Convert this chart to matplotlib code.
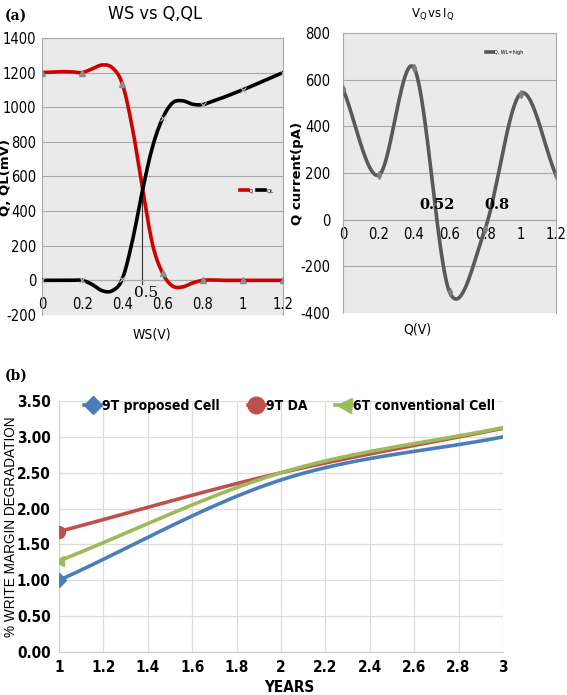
import numpy as np
import matplotlib
matplotlib.use('Agg')
import matplotlib.pyplot as plt
from matplotlib import font_manager

plt.rcParams['axes.unicode_minus'] = False

# look for a condensed sans (the original uses narrow office fonts)
cond = {}
for f in font_manager.fontManager.ttflist:
    fn = f.fname.lower()
    if ('narrow' in fn or 'condensed' in fn) and 'italic' not in fn and 'oblique' not in fn and 'mono' not in fn:
        key = 'bold' if 'bold' in fn else 'regular'
        cond.setdefault(key, f.fname)
if 'regular' in cond:
    NARROW = font_manager.FontProperties(fname=cond['regular'])
    NARROW_B = font_manager.FontProperties(fname=cond.get('bold', cond['regular']))
    FOUND = True
else:
    NARROW = font_manager.FontProperties(family='Liberation Sans')
    NARROW_B = font_manager.FontProperties(family='Liberation Sans', weight='bold')
    FOUND = False

# (a) left: WS vs Q, QL
ws = [0, 0.05, 0.1, 0.15, 0.2, 0.25, 0.3, 0.35, 0.4, 0.45, 0.5, 0.55, 0.6,
      0.65, 0.7, 0.75, 0.8, 0.85, 0.9, 0.95, 1.0, 1.05, 1.1, 1.15, 1.2]
q_mv = [1200, 1203, 1205, 1204, 1200, 1222, 1244, 1228, 1135, 880, 535, 210, 42,
        -33, -38, -15, 0, 2, 0, 0, 0, 0, 0, 0, 0]
ql_mv = [0, 0, 0, 0, 0, -24, -60, -60, 8, 228, 518, 770, 935,
         1025, 1037, 1017, 1015, 1035, 1055, 1078, 1100, 1125, 1150, 1175, 1200]
ws_ticks = [0, 0.2, 0.4, 0.6, 0.8, 1, 1.2]
ws_ticklabels = ['0', '0.2', '0.4', '0.6', '0.8', '1', '1.2']
q_ticks = [-200, 0, 200, 400, 600, 800, 1000, 1200, 1400]

# (a) right: VQ vs IQ
vq = [0, 0.2, 0.4, 0.6, 0.8, 1.0, 1.2]
iq_pa = [560, 190, 650, -310, -40, 540, 190]
iq_ticks = [-400, -200, 0, 200, 400, 600, 800]

# (b) write margin degradation
years = [1, 2, 3]
wm_9t_proposed = [1.00, 2.40, 3.00]
wm_9t_da = [1.68, 2.50, 3.12]
wm_6t_conv = [1.27, 2.50, 3.13]
year_ticks = [1, 1.2, 1.4, 1.6, 1.8, 2, 2.2, 2.4, 2.6, 2.8, 3]
year_ticklabels = ['1', '1.2', '1.4', '1.6', '1.8', '2', '2.2', '2.4', '2.6', '2.8', '3']
wm_ticks = [0, 0.5, 1.0, 1.5, 2.0, 2.5, 3.0, 3.5]


def smooth(x, y, n=30):
    # excel-like smoothed line (catmull-rom through the points)
    x = np.asarray(x, float)
    y = np.asarray(y, float)
    px = np.concatenate([[x[0]], x, [x[-1]]])
    py = np.concatenate([[y[0]], y, [y[-1]]])
    xs, ys = [], []
    for i in range(1, len(px) - 2):
        h = px[i + 1] - px[i]
        m0 = (py[i + 1] - py[i - 1]) / (px[i + 1] - px[i - 1]) * h
        m1 = (py[i + 2] - py[i]) / (px[i + 2] - px[i]) * h
        t = np.linspace(0, 1, n, endpoint=False)
        h00 = 2 * t**3 - 3 * t**2 + 1
        h10 = t**3 - 2 * t**2 + t
        h01 = -2 * t**3 + 3 * t**2
        h11 = t**3 - t**2
        xs.append(px[i] + t * h)
        ys.append(h00 * py[i] + h10 * m0 + h01 * py[i + 1] + h11 * m1)
    xs.append([x[-1]])
    ys.append([y[-1]])
    return np.concatenate(xs), np.concatenate(ys)


def fp(base, size):
    p = base.copy()
    p.set_size(size)
    return p


TICK_A = 10.5 if FOUND else 8.2

fig = plt.figure(figsize=(5.67, 6.95), dpi=100)

PANEL_BG = '#eaeaea'
GRID_A = '#a9a9a9'

# ---- left panel
ax1 = fig.add_axes([0.0741, 0.5468, 0.425, 0.3986])
ax1.set_facecolor(PANEL_BG)
sx, sy = smooth(ws, q_mv, 12)
ax1.plot(sx, sy, color='#d00000', lw=2.6, label='Q', zorder=3)
ax1.plot(ws[::4], q_mv[::4], ls='none', marker='^', ms=5, color='#8c8c8c', zorder=4)
sx, sy = smooth(ws, ql_mv, 12)
ax1.plot(sx, sy, color='black', lw=2.6, label='QL', zorder=3)
ax1.plot(ws[::4], ql_mv[::4], ls='none', marker='x', ms=5, mew=0.8, color='#bdbdbd', zorder=4)
ax1.plot([0.5, 0.5], [-20, 520], color='#333333', lw=0.8, zorder=2)
ax1.text(0.52, -75, '0.5', family='DejaVu Serif', fontsize=11, ha='center', va='center')
ax1.set_xlim(0, 1.2)
ax1.set_ylim(-200, 1400)
ax1.set_yticks(q_ticks)
ax1.set_xticks(ws_ticks)
ax1.set_xticklabels(ws_ticklabels)
ax1.spines['bottom'].set_position(('data', 0))
for s in ax1.spines.values():
    s.set_color(GRID_A)
    s.set_linewidth(0.8)
ax1.grid(axis='y', color=GRID_A, lw=0.8)
ax1.set_axisbelow(True)
ax1.tick_params(axis='x', length=0, pad=12)
ax1.tick_params(axis='y', length=0, pad=4)
for lab in ax1.get_xticklabels() + ax1.get_yticklabels():
    lab.set_fontproperties(fp(NARROW, TICK_A))
fig.text(155 / 567, 1 - 14 / 695, 'WS vs Q,QL', fontproperties=fp(NARROW, 13 if FOUND else 12),
         ha='center', va='center')
fig.text(6 / 567, 1 - 177 / 695, 'Q, QL(mV)', fontsize=9.5, fontweight='bold', rotation=90,
         ha='center', va='center')
fig.text(152 / 567, 1 - 334 / 695, 'WS(V)', fontproperties=fp(NARROW, 10 if FOUND else 9),
         ha='center', va='center')
ax1.legend(loc='center left', bbox_to_anchor=(0.8, 0.448), ncol=2, frameon=False,
           fontsize=4, handlelength=1.5, handletextpad=0.2, columnspacing=0.6)

# ---- right panel
ax2 = fig.add_axes([0.605, 0.5496, 0.3757, 0.4029])
ax2.set_facecolor(PANEL_BG)
sx, sy = smooth(vq, iq_pa, 40)
ax2.plot(sx, sy, color='#595959', lw=2.6, label='Q, WL=high', zorder=3)
ax2.plot(vq, iq_pa, ls='none', marker='d', ms=4, color='#7f7f7f', zorder=4)
ax2.text(0.53, 65, '0.52', family='DejaVu Serif', fontsize=10.5, fontweight='bold', ha='center', va='center')
ax2.text(0.865, 65, '0.8', family='DejaVu Serif', fontsize=10.5, fontweight='bold', ha='center', va='center')
ax2.set_xlim(0, 1.2)
ax2.set_ylim(-400, 800)
ax2.set_yticks(iq_ticks)
ax2.set_xticks(ws_ticks)
ax2.set_xticklabels(ws_ticklabels)
ax2.spines['bottom'].set_position(('data', 0))
for s in ax2.spines.values():
    s.set_color(GRID_A)
    s.set_linewidth(0.8)
ax2.grid(axis='y', color=GRID_A, lw=0.8)
ax2.set_axisbelow(True)
ax2.tick_params(axis='x', length=0, pad=5)
ax2.tick_params(axis='y', length=0, pad=9)
for lab in ax2.get_xticklabels() + ax2.get_yticklabels():
    lab.set_fontproperties(fp(NARROW, TICK_A))
fig.text(433 / 567, 1 - 14 / 695, r'$\mathrm{V_Q\,vs\,I_Q}$', family='DejaVu Serif', fontsize=8.5,
         ha='center', va='center')
fig.text(298 / 567, 1 - 173 / 695, 'Q current(pA)', fontsize=9.5, fontweight='bold', rotation=90,
         ha='center', va='center')
fig.text(417 / 567, 1 - 330 / 695, 'Q(V)', fontproperties=fp(NARROW, 10 if FOUND else 9),
         ha='center', va='center')
ax2.legend(loc='center left', bbox_to_anchor=(0.65, 0.932), frameon=False,
           fontsize=3.5, handlelength=1.5, handletextpad=0.2)

# ---- panel (b)
ax3 = fig.add_axes([0.104, 0.0619, 0.783, 0.361])
series = [
    (wm_9t_proposed, '#4a7ebb', 'D', 8, '9T proposed Cell'),
    (wm_9t_da, '#c0504d', 'o', 10, '9T DA'),
    (wm_6t_conv, '#9bbb59', '<', 9, '6T conventional Cell'),
]
for vals, col, mk, ms, lab in series:
    sx, sy = smooth(years, vals, 40)
    ax3.plot(sx, sy, color=col, lw=2.6, zorder=3)
    ax3.plot(years[:1], vals[:1], ls='none', marker=mk, ms=ms * 0.85, color=col, zorder=4)
    ax3.plot([], [], color=col, lw=2.6, marker=mk, ms=ms * 1.2, label=lab)
ax3.set_xlim(1, 3)
ax3.set_ylim(0, 3.5)
ax3.set_xticks(year_ticks)
ax3.set_xticklabels(year_ticklabels)
ax3.set_yticks(wm_ticks)
ax3.set_yticklabels(['%.2f' % v for v in wm_ticks])
ax3.grid(True, color='#dcdcdc', lw=0.9)
ax3.set_axisbelow(True)
for side in ['top', 'right']:
    ax3.spines[side].set_visible(False)
for side in ['left', 'bottom']:
    ax3.spines[side].set_color('#d0d0d0')
ax3.tick_params(length=0, pad=6)
for lab in ax3.get_xticklabels() + ax3.get_yticklabels():
    lab.set_fontproperties(fp(NARROW_B, 11 if FOUND else 9))
fig.text(289 / 567, 1 - 687 / 695, 'YEARS', fontproperties=fp(NARROW_B, 11 if FOUND else 9.5),
         ha='center', va='center')
fig.text(11 / 567, 1 - 527 / 695, '% WRITE MARGIN DEGRADATION', family='Liberation Sans',
         fontsize=9.8, rotation=90, ha='center', va='center')
ax3.legend(loc='upper center', bbox_to_anchor=(0.52, 1.06), ncol=3, frameon=False,
           prop=fp(NARROW_B, 10 if FOUND else 6.6),
           handlelength=1.2, handletextpad=0.1, columnspacing=2.0 if FOUND else 0.9)

fig.text(0.009, 0.988, '(a)', family='DejaVu Serif', fontsize=10, fontweight='bold', va='top')
fig.text(0.009, 0.47, '(b)', family='DejaVu Serif', fontsize=10, fontweight='bold', va='top')

fig.savefig('out.png', dpi=100)
